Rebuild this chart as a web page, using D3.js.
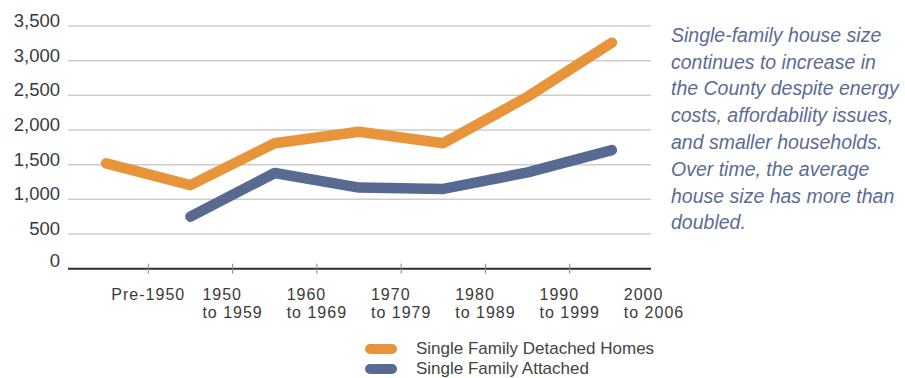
<!DOCTYPE html>
<html>
<head>
<meta charset="utf-8">
<script src="https://cdn.jsdelivr.net/npm/d3@7"></script>
<style>
  html, body { margin: 0; padding: 0; background: #fff; }
  svg { display: block; font-family: "Liberation Sans", Arial, sans-serif; }
</style>
</head>
<body>
<svg id="chart" width="905" height="378"></svg>
<script>
// Average single-family house size by decade built (square feet)
const periods = ["Pre-1950", "1950s", "1960s", "1970s", "1980s", "1990s", "2000s"];
const periodLabels = [
  ["Pre-1950"],
  ["1950", "to 1959"],
  ["1960", "to 1969"],
  ["1970", "to 1979"],
  ["1980", "to 1989"],
  ["1990", "to 1999"],
  ["2000", "to 2006"]
];
const detached = [1520, 1205, 1810, 1975, 1810, 2480, 3260];
const attached = [null, 750, 1380, 1170, 1150, 1390, 1710];
const yTicks = [0, 500, 1000, 1500, 2000, 2500, 3000, 3500];
const seriesNames = ["Single Family Detached Homes", "Single Family Attached"];
const seriesColors = ["#E8943A", "#586A92"];
const note = [
  "Single-family house size",
  "continues to increase in",
  "the County despite energy",
  "costs, affordability issues,",
  "and smaller households.",
  "Over time, the average",
  "house size has more than",
  "doubled."
];

const svg = d3.select("#chart");

const x = d3.scaleBand().domain(periods).range([64, 654]).padding(0);
const y = d3.scaleLinear().domain([0, 3500]).range([268.7, 26]);
const gridLeft = 68, gridRight = 651;

// horizontal gridlines
svg.append("g")
  .selectAll("line")
  .data(yTicks.filter(d => d > 0))
  .join("line")
  .attr("x1", gridLeft).attr("x2", gridRight)
  .attr("y1", d => y(d)).attr("y2", d => y(d))
  .attr("stroke", "#cdcdcd").attr("stroke-width", 1.5);

// y-axis labels
svg.append("g")
  .selectAll("text")
  .data(yTicks)
  .join("text")
  .attr("x", 60)
  .attr("y", d => y(d) + (d === 0 ? -2 : 1))
  .attr("text-anchor", "end")
  .attr("font-size", 18.5)
  .attr("fill", "#3a3a3a")
  .text(d => d3.format(",")(d));

// baseline axis with tick marks between periods
svg.append("line")
  .attr("x1", gridLeft).attr("x2", gridRight)
  .attr("y1", y(0)).attr("y2", y(0))
  .attr("stroke", "#2e2e2e").attr("stroke-width", 2);

svg.append("g")
  .selectAll("line")
  .data(periods.slice(1))
  .join("line")
  .attr("x1", d => x(d)).attr("x2", d => x(d))
  .attr("y1", y(0) - 5).attr("y2", y(0) + 5)
  .attr("stroke", "#8a8a8a").attr("stroke-width", 1);

// period labels, centred on the right edge of each band, lines left-aligned
const labelG = svg.append("g");
periods.forEach((p, i) => {
  const texts = periodLabels[i].map((line, j) =>
    labelG.append("text")
      .attr("y", 299.5 + j * 18)
      .attr("font-size", 16)
      .attr("letter-spacing", 1)
      .attr("fill", "#3a3a3a")
      .text(line));
  const w = d3.max(texts, t => t.node().getComputedTextLength());
  const cx = x(p) + x.bandwidth();
  texts.forEach(t => t.attr("x", cx - w / 2));
});

// series lines
const line = d3.line()
  .defined(d => d.v != null)
  .x(d => x(d.p) + x.bandwidth() / 2)
  .y(d => y(d.v));

[detached, attached].forEach((vals, k) => {
  svg.append("path")
    .datum(periods.map((p, i) => ({ p, v: vals[i] })))
    .attr("d", line)
    .attr("fill", "none")
    .attr("stroke", seriesColors[k])
    .attr("stroke-width", 10.5)
    .attr("stroke-linecap", "round")
    .attr("stroke-linejoin", "round");
});

// legend
const legend = svg.append("g");
seriesNames.forEach((name, k) => {
  const ly = 349 + k * 20;
  legend.append("rect")
    .attr("x", 365).attr("y", ly - 5)
    .attr("width", 32).attr("height", 10)
    .attr("rx", 5).attr("ry", 5)
    .attr("fill", seriesColors[k]);
  legend.append("text")
    .attr("x", 416).attr("y", ly + 5)
    .attr("font-size", 17)
    .attr("fill", "#444")
    .text(name);
});

// commentary text
svg.append("g")
  .selectAll("text")
  .data(note)
  .join("text")
  .attr("x", 671)
  .attr("y", (d, i) => 41.7 + i * 26.8)
  .attr("font-size", 19.5)
  .attr("font-style", "italic")
  .attr("fill", "#5B6B95")
  .text(d => d);
</script>
</body>
</html>
